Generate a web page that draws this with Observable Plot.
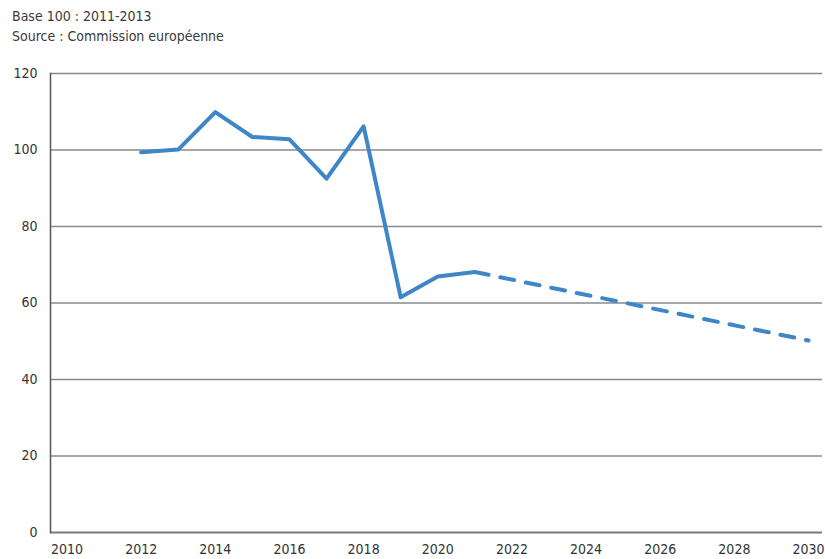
<!DOCTYPE html>
<html><head><meta charset="utf-8">
<script src="https://cdn.jsdelivr.net/npm/d3@7"></script>
<script src="https://cdn.jsdelivr.net/npm/@observablehq/plot@0.6"></script>
<style>
body{margin:0;background:#fff;font-family:"DejaVu Sans Condensed","DejaVu Sans",sans-serif;font-stretch:condensed;}
#head{padding:6px 0 0 12px;height:42px;font-size:14px;line-height:20px;color:#3a3a3a;}
svg text{font-stretch:condensed;}
</style></head><body>
<div id="head"><div>Base 100 : 2011-2013</div><div>Source : Commission européenne</div></div>
<div id="chart"></div>
<script>
const years = [2012, 2013, 2014, 2015, 2016, 2017, 2018, 2019, 2020, 2021];
const values = [99.4, 100.1, 109.9, 103.4, 102.8, 92.5, 106.2, 61.5, 66.9, 68.1];
const projYears = [2021, 2030];
const projValues = [68.1, 50.2];
const xTicks = [2010, 2012, 2014, 2016, 2018, 2020, 2022, 2024, 2026, 2028, 2030];
const yTicks = [0, 20, 40, 60, 80, 100, 120];

const hist = years.map((y, i) => ({year: y, value: values[i]}));
const proj = projYears.map((y, i) => ({year: y, value: projValues[i]}));

const chart = Plot.plot({
  width: 825, height: 511,
  marginLeft: 50, marginRight: 3, marginTop: 25, marginBottom: 27,
  style: {fontFamily: '"DejaVu Sans Condensed","DejaVu Sans",sans-serif', fontSize: "14px", color: "#333", background: "white"},
  x: {domain: [2009.555, 2030.377], ticks: xTicks, tickFormat: d => String(d), tickSize: 0, tickPadding: 12, label: null},
  y: {domain: [0, 120], ticks: yTicks, tickSize: 0, tickPadding: 13, label: null},
  marks: [
    Plot.ruleY(yTicks.filter(d => d > 0), {stroke: "#8a8a8a", strokeWidth: 1.5}),
    Plot.ruleY([0], {stroke: "#7a7a7a", strokeWidth: 2}),
    Plot.frame({anchor: "left", stroke: "#555", strokeWidth: 1.5}),
    Plot.line(hist, {x: "year", y: "value", stroke: "#3f86c8", strokeWidth: 4}),
    Plot.line(proj, {x: "year", y: "value", stroke: "#3f86c8", strokeWidth: 4, strokeDasharray: "14,12"})
  ]
});
document.getElementById("chart").appendChild(chart);
</script>
</body></html>
